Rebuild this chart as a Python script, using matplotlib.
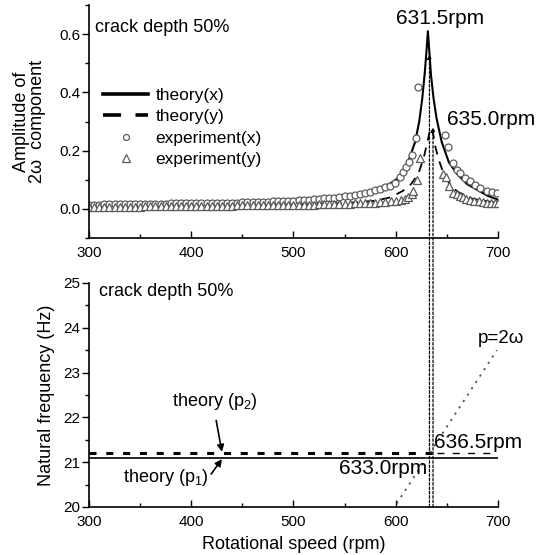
import numpy as np
import matplotlib.pyplot as plt
from matplotlib.patches import ConnectionPatch

plt.rcParams['font.family'] = ['Liberation Sans', 'DejaVu Sans']
plt.rcParams['mathtext.fontset'] = 'custom'
plt.rcParams['mathtext.rm'] = 'Liberation Sans'
plt.rcParams['mathtext.it'] = 'Liberation Sans:italic'

# ---- top panel data: amplitude of 2w component ----
theory_x_rpm = [300, 350, 400, 450, 500, 530, 550, 565, 585, 595, 604, 612, 619, 623, 626,
                628.5, 630.5, 631.5, 632.5, 634.5, 637, 640, 645, 652, 660, 670, 680, 690, 700]
theory_x_amp = [0.018, 0.019, 0.021, 0.024, 0.030, 0.036, 0.043, 0.052, 0.072, 0.088, 0.11,
                0.16, 0.23, 0.30, 0.38, 0.47, 0.56, 0.61, 0.56, 0.46, 0.38, 0.31, 0.23, 0.16,
                0.12, 0.085, 0.065, 0.045, 0.032]

theory_y_rpm = [300, 400, 500, 550, 580, 595, 607, 615, 622, 627, 631, 633.5, 635, 636.5,
                639, 642, 646, 652, 660, 675, 700]
theory_y_amp = [0.012, 0.013, 0.016, 0.020, 0.028, 0.040, 0.062, 0.085, 0.12, 0.17, 0.23,
                0.27, 0.28, 0.26, 0.21, 0.17, 0.13, 0.09, 0.06, 0.035, 0.02]

exp_x_rpm = [300, 305, 310, 315, 320, 325, 330, 335, 340, 345, 350, 355, 360, 365, 370, 375,
             380, 385, 390, 395, 400, 405, 410, 415, 420, 425, 430, 435, 440, 445, 450, 455,
             460, 465, 470, 475, 480, 485, 490, 495, 500, 505, 510, 515, 520, 525, 530, 535,
             540, 545, 550, 555, 560, 565, 570, 575, 580, 585, 590, 594, 599, 604, 607, 610.5,
             613, 615.5, 620, 622,
             648, 651, 656, 659.5, 663, 667.5, 672.5, 677.5, 682, 689, 694, 699]
exp_x_amp = [0.015, 0.015, 0.015, 0.016, 0.016, 0.016, 0.016, 0.017, 0.017, 0.017, 0.017,
             0.017, 0.018, 0.018, 0.018, 0.018, 0.019, 0.019, 0.019, 0.019, 0.020, 0.020,
             0.020, 0.020, 0.021, 0.021, 0.021, 0.022, 0.022, 0.022, 0.023, 0.023, 0.024,
             0.024, 0.025, 0.025, 0.026, 0.026, 0.027, 0.028, 0.029, 0.030, 0.031, 0.032,
             0.033, 0.034, 0.036, 0.037, 0.039, 0.041, 0.043, 0.045, 0.048, 0.051, 0.055,
             0.059, 0.064, 0.069, 0.074, 0.078, 0.088, 0.11, 0.128, 0.145, 0.162, 0.186,
             0.245, 0.417,
             0.255, 0.214, 0.159, 0.135, 0.124, 0.107, 0.095, 0.083, 0.072, 0.060, 0.058, 0.055]

exp_y_rpm = [300, 305, 310, 315, 320, 325, 330, 335, 340, 345, 350, 355, 360, 365, 370, 375,
             380, 385, 390, 395, 400, 405, 410, 415, 420, 425, 430, 435, 440, 445, 450, 455,
             460, 465, 470, 475, 480, 485, 490, 495, 500, 505, 510, 515, 520, 525, 530, 535,
             540, 545, 550, 555, 560, 565, 570, 575, 580, 585, 590, 595, 600, 605, 609, 612,
             615.5, 617, 621, 624,
             646, 649, 652, 656, 659.5, 663, 666, 669, 673, 677, 681, 685, 689, 693, 697, 700]
exp_y_amp = [0.007, 0.007, 0.007, 0.007, 0.008, 0.008, 0.008, 0.008, 0.008, 0.008, 0.008,
             0.009, 0.009, 0.009, 0.009, 0.009, 0.009, 0.009, 0.010, 0.010, 0.010, 0.010,
             0.010, 0.010, 0.011, 0.011, 0.011, 0.011, 0.011, 0.012, 0.012, 0.012, 0.012,
             0.012, 0.013, 0.013, 0.013, 0.013, 0.014, 0.014, 0.014, 0.014, 0.015, 0.015,
             0.015, 0.016, 0.016, 0.016, 0.017, 0.017, 0.018, 0.018, 0.019, 0.020, 0.020,
             0.021, 0.022, 0.023, 0.024, 0.026, 0.028, 0.030, 0.035, 0.040,
             0.050, 0.060, 0.100, 0.175,
             0.120, 0.110, 0.080, 0.055, 0.050, 0.045, 0.040, 0.035, 0.030, 0.028, 0.026,
             0.024, 0.022, 0.021, 0.020, 0.020]

# ---- bottom panel data: natural frequency ----
p_rpm = [300, 700]
p1_freq = [21.1, 21.1]
p2_thick_rpm = [300, 640]
p2_thin_rpm = [640, 700]
p2_freq = [21.2, 21.2]
two_omega_rpm = [601, 699]
two_omega_freq = [20.08, 23.5]

res_amp_rpm = [633.0, 636.5]
res_amp_top = [0.53, 0.28]

fig = plt.figure(figsize=(5.43, 5.55), dpi=100)
ax1 = fig.add_axes([0.164, 0.571, 0.753, 0.420])
ax2 = fig.add_axes([0.164, 0.0865, 0.753, 0.4036])

for ax in (ax1, ax2):
    ax.spines['top'].set_visible(False)
    ax.spines['right'].set_visible(False)
    ax.spines['left'].set_linewidth(1.2)
    ax.spines['bottom'].set_linewidth(1.2)
    ax.set_xlim(300, 700)
    ax.set_xticks([300, 400, 500, 600, 700])
    ax.set_xticks([350, 450, 550, 650], minor=True)
    ax.tick_params(axis='x', which='major', direction='in', length=5, width=1, labelsize=11, pad=6)
    ax.tick_params(axis='x', which='minor', direction='in', length=3, width=1)
    ax.tick_params(axis='y', which='major', direction='out', length=5, width=1, labelsize=11, pad=1.5)
    ax.tick_params(axis='y', which='minor', direction='out', length=3, width=1)

# top panel
ax1.set_ylim(-0.1, 0.7)
ax1.set_yticks([0.0, 0.2, 0.4, 0.6])
ax1.set_yticks([-0.1, 0.1, 0.3, 0.5, 0.7], minor=True)
ax1.set_yticklabels(['0.0', '0.2', '0.4', '0.6'])
ax1.plot(theory_x_rpm, theory_x_amp, color='black', lw=1.5, label='theory(x)')
ax1.plot(theory_y_rpm, theory_y_amp, color='black', lw=1.3, ls=(0, (5, 4)), label='theory(y)')
ax1.plot(exp_x_rpm, exp_x_amp, ls='none', marker='o', ms=5, mfc='white', mec='#5a5a5a',
         mew=0.9, label='experiment(x)')
ax1.plot(exp_y_rpm, exp_y_amp, ls='none', marker='^', ms=6, mfc='white', mec='#5a5a5a',
         mew=0.9, label='experiment(y)')
ax1.set_ylabel('Amplitude of\n2ω  component', fontsize=13, linespacing=0.95, labelpad=9)
ax1.text(0.015, 0.905, 'crack depth 50%', transform=ax1.transAxes, fontsize=13, va='center')
ax1.text(643, 0.652, '631.5rpm', fontsize=15, ha='center', va='center')
ax1.text(650, 0.307, '635.0rpm', fontsize=15, ha='left', va='center')
leg = ax1.legend(loc='upper left', bbox_to_anchor=(0.018, 0.675), frameon=False, fontsize=12.5,
                 handlelength=2.6, handletextpad=0.4, labelspacing=0.36, borderaxespad=0.0,
                 markerscale=0.85)
leg.get_lines()[0].set_linewidth(2.6)
leg.get_lines()[1].set_linewidth(2.6)

# bottom panel
ax2.set_ylim(20, 25)
ax2.set_yticks([20, 21, 22, 23, 24, 25])
ax2.set_yticks([20.5, 21.5, 22.5, 23.5, 24.5], minor=True)
ax2.plot(p_rpm, p1_freq, color='black', lw=1.2)
ax2.plot(p2_thick_rpm, p2_freq, color='black', lw=2.2, ls=(0, (2.3, 3.2)))
ax2.plot(p2_thin_rpm, p2_freq, color='black', lw=1.0, ls=(0, (5, 6)))
ax2.plot(two_omega_rpm, two_omega_freq, color='#555555', lw=1.3, ls=(0, (1.2, 3)))
ax2.text(0.025, 0.96, 'crack depth 50%', transform=ax2.transAxes, fontsize=13, va='center')
ax2.text(637, 21.45, '636.5rpm', fontsize=15, ha='left', va='center')
ax2.text(631, 20.85, '633.0rpm', fontsize=15, ha='right', va='center')
ax2.text(680, 23.77, 'p=2ω', fontsize=13.5, ha='left', va='center')
ax2.annotate('theory (p$_2$)', xy=(430, 21.23), xytext=(381, 22.35), fontsize=13,
             va='center', arrowprops=dict(arrowstyle='-|>', color='black', lw=1.2,
                                          mutation_scale=10, shrinkA=4, shrinkB=0,
                                          relpos=(0.5, 0)))
ax2.annotate('theory (p$_1$)', xy=(430, 21.07), xytext=(333, 20.65), fontsize=13,
             va='center', ha='left', arrowprops=dict(arrowstyle='-|>', color='black', lw=1.2,
                                                     mutation_scale=10, shrinkA=0, shrinkB=0,
                                                     relpos=(1.0, 0.5)))
ax2.set_xlabel('Rotational speed (rpm)', fontsize=13, labelpad=5)
ax2.set_ylabel('Natural frequency (Hz)', fontsize=13, labelpad=6)

# dotted lines linking both panels
for rpm, top in zip(res_amp_rpm, res_amp_top):
    con = ConnectionPatch(xyA=(rpm, 20), coordsA=ax2.transData, xyB=(rpm, top),
                          coordsB=ax1.transData, arrowstyle='-|>', mutation_scale=6,
                          color='black', lw=0.9, ls=(0, (2, 1.5)), shrinkA=0, shrinkB=0)
    fig.add_artist(con)

plt.savefig('out.png', dpi=100)
